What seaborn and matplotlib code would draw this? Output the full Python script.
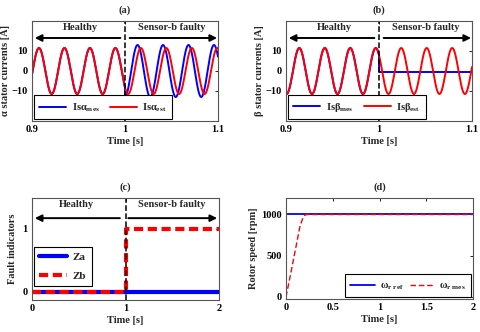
import numpy as np
import pandas as pd
import matplotlib
matplotlib.use("Agg")
import matplotlib.pyplot as plt
import seaborn as sns

# ---------------- data ----------------
t_fault = 1.0
amp_est = 11.5            # amplitude of estimated currents [A]
freq_hz = 36.5            # electrical frequency [Hz]
t_peak_alpha = 0.9075     # time of first alpha peak [s]
t_peak_beta = 0.9143      # time of first beta peak [s]
amp_alpha_faulty = 13.0   # measured alpha amplitude after fault [A]
lead_alpha_faulty = 0.0036  # measured alpha lead after fault [s]
beta_mes_faulty = -0.5    # measured beta after fault [A]

fault_time = [0.0, 1.0, 1.0, 2.0]
za_values = [0.0, 0.0, 0.0, 0.0]
zb_values = [0.0, 0.0, 1.0, 1.0]

speed_time = [0.0, 2.0]
speed_ref = [1000.0, 1000.0]
mes_time = [0.0, 0.05, 0.10, 0.15, 0.18, 0.20, 0.22, 2.0]
mes_speed = [0.0, 280.0, 570.0, 860.0, 955.0, 990.0, 1000.0, 1000.0]

blue = (0, 0, 1)
red = (1, 0, 0)

# ---------------- style ----------------
sns.set_style("white")
plt.rcParams["font.family"] = ["Liberation Serif", "DejaVu Serif"]
plt.rcParams["font.weight"] = "bold"
plt.rcParams["axes.labelweight"] = "bold"
plt.rcParams["axes.titleweight"] = "bold"
plt.rcParams["mathtext.fontset"] = "custom"
plt.rcParams["mathtext.rm"] = "Liberation Serif:bold"
plt.rcParams["mathtext.it"] = "Liberation Serif:bold"
plt.rcParams["mathtext.bf"] = "Liberation Serif:bold"

FS = 7.5
fig = plt.figure(figsize=(4.8, 3.32), dpi=100)
fig.patch.set_facecolor("white")

ax_a = fig.add_axes([32/480, 1-121/332, 186/480, 100/332])
ax_b = fig.add_axes([286/480, 1-121/332, 186/480, 100/332])
ax_c = fig.add_axes([32/480, 1-300/332, 187/480, 102/332])
ax_d = fig.add_axes([286/480, 1-299/332, 187/480, 101/332])


def style_axes(ax):
    for s in ax.spines.values():
        s.set_color("#555555")
        s.set_linewidth(0.8)
    ax.tick_params(direction="in", length=2.5, width=0.6, labelsize=FS,
                   top=True, right=True, pad=3, colors="black")
    for lab in ax.get_xticklabels() + ax.get_yticklabels():
        lab.set_fontweight("bold")


def style_legend(leg):
    leg.get_frame().set_edgecolor("black")
    leg.get_frame().set_linewidth(0.8)
    leg.get_frame().set_alpha(1)


def arrows(ax, x0, x1, xa_end, xb_start, y):
    ap = dict(arrowstyle="-|>", color="black", lw=1.4, mutation_scale=10,
              shrinkA=0, shrinkB=0)
    ax.annotate("", xy=(x0, y), xytext=(xa_end, y), arrowprops=ap)
    ax.annotate("", xy=(x1, y), xytext=(xb_start, y), arrowprops=ap)


# ---------------- (a), (b) ----------------
t = np.linspace(0.9, 1.1, 3000)
w = 2 * np.pi * freq_hz
alpha_est = amp_est * np.cos(w * (t - t_peak_alpha))
alpha_mes = np.where(t < t_fault, alpha_est,
                     amp_alpha_faulty * np.cos(w * (t - t_peak_alpha + lead_alpha_faulty)))
beta_est = amp_est * np.cos(w * (t - t_peak_beta))
beta_mes = np.where(t < t_fault, beta_est, beta_mes_faulty)

sub = "$_{\\mathregular{%s}}$"

for ax, mes, est, name, lab in [
        (ax_a, alpha_mes, alpha_est, "α", "(a)"),
        (ax_b, beta_mes, beta_est, "β", "(b)")]:
    sns.lineplot(x=t, y=mes, ax=ax, color=blue, lw=1.4,
                 label="Is" + name + sub % "mes", estimator=None, sort=False)
    sns.lineplot(x=t, y=est, ax=ax, color=red, lw=1.4,
                 label="Is" + name + sub % "est", estimator=None, sort=False)
    ax.axvline(t_fault, color="black", ls="--", lw=1.1)
    ax.set_xlim(0.9, 1.1)
    ax.set_ylim(-25, 25)
    ax.set_xticks([0.9, 1.0, 1.1])
    ax.set_xticklabels(["0.9", "1", "1.1"])
    ax.set_yticks([-10, 0, 10])
    ax.set_xlabel("Time [s]", fontsize=FS, labelpad=2)
    ax.set_ylabel(name + " stator currents [A]", fontsize=FS, labelpad=1)
    ax.set_title(lab, fontsize=FS, pad=6)
    arrows(ax, 0.903, 1.099, 0.995, 1.005, 16.5)
    ax.text(0.952, 22, "Healthy", ha="center", va="center", fontsize=FS)
    ax.text(1.05, 22, "Sensor-b faulty", ha="center", va="center", fontsize=FS)
    leg = ax.legend(loc="lower left", ncol=2, fontsize=FS, frameon=True,
                    fancybox=False, borderaxespad=0.15, handlelength=2.6,
                    columnspacing=1.0, handletextpad=0.5, borderpad=0.55)
    style_legend(leg)
    style_axes(ax)

# ---------------- (c) ----------------
sns.lineplot(x=fault_time, y=za_values, ax=ax_c, color=blue, lw=3,
             label="Za", estimator=None, sort=False)
sns.lineplot(x=fault_time, y=zb_values, ax=ax_c, color=red, lw=3,
             label="Zb", estimator=None, sort=False, linestyle=(0, (2.2, 1.1)))
ax_c.axvline(t_fault, color="black", ls="--", lw=1.1)
ax_c.set_xlim(0, 2)
ax_c.set_ylim(-0.13, 1.49)
ax_c.set_xticks([0, 1, 2])
ax_c.set_yticks([0, 1])
ax_c.set_xlabel("Time [s]", fontsize=FS, labelpad=2)
ax_c.set_ylabel("Fault indicators", fontsize=FS, labelpad=4)
ax_c.set_title("(c)", fontsize=FS, pad=6)
arrows(ax_c, 0.03, 1.98, 0.94, 1.03, 1.17)
ax_c.text(0.48, 1.38, "Healthy", ha="center", va="center", fontsize=FS)
ax_c.text(1.5, 1.38, "Sensor-b faulty", ha="center", va="center", fontsize=FS)
leg = ax_c.legend(loc="lower left", bbox_to_anchor=(0.0, 0.12), ncol=1,
                  fontsize=FS + 0.5, frameon=True, fancybox=False,
                  borderaxespad=0.15, handlelength=2.5, handletextpad=0.5,
                  borderpad=0.5, labelspacing=0.8)
style_legend(leg)
style_axes(ax_c)

# ---------------- (d) ----------------
sns.lineplot(x=speed_time, y=speed_ref, ax=ax_d, color=blue, lw=1.3,
             label="ω" + sub % "r\\ ref", estimator=None, sort=False)
sns.lineplot(x=mes_time, y=mes_speed, ax=ax_d, color=red, lw=1.0,
             label="ω" + sub % "r\\ mes", estimator=None, sort=False,
             linestyle=(0, (4, 2)))
ax_d.set_xlim(0, 2)
ax_d.set_ylim(-25, 1200)
ax_d.set_xticks([0, 0.5, 1, 1.5, 2])
ax_d.set_xticklabels(["0", "0.5", "1", "1.5", "2"])
ax_d.set_yticks([0, 500, 1000])
ax_d.set_xlabel("Time [s]", fontsize=FS, labelpad=2)
ax_d.set_ylabel("Rotor speed [rpm]", fontsize=FS, labelpad=2)
ax_d.set_title("(d)", fontsize=FS, pad=6)
leg = ax_d.legend(loc="lower right", ncol=2, fontsize=FS, frameon=True,
                  fancybox=False, borderaxespad=0.15, handlelength=2.4,
                  columnspacing=0.6, handletextpad=0.4, borderpad=0.55)
style_legend(leg)
style_axes(ax_d)

fig.savefig("out.png", dpi=100, facecolor="white")
